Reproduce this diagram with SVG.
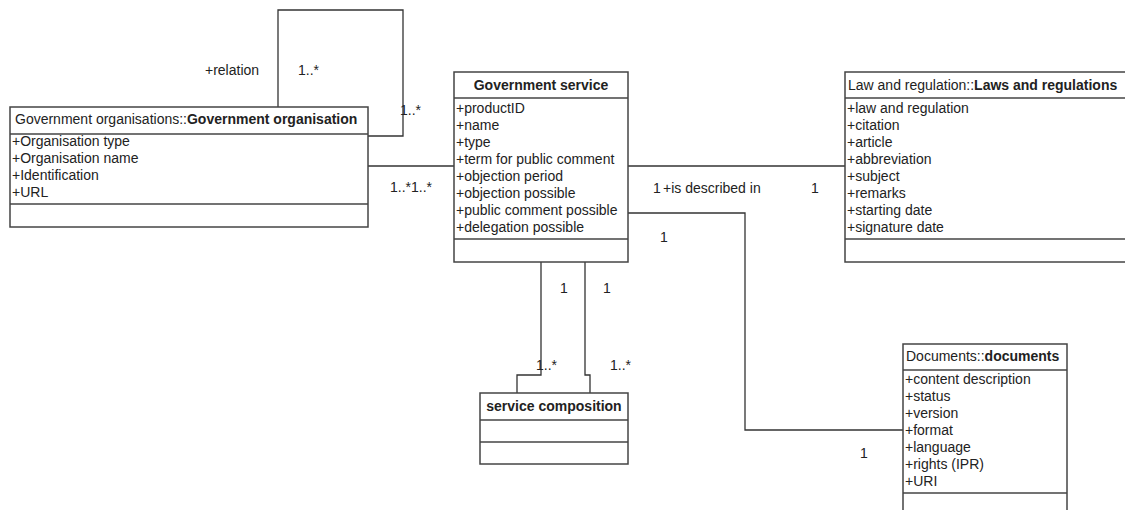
<svg xmlns="http://www.w3.org/2000/svg" width="1125" height="510" viewBox="0 0 1125 510">
<style>
.box{fill:#fff;stroke:#444;stroke-width:1.5}
.div{stroke:#444;stroke-width:1.5}
.con{fill:none;stroke:#333;stroke-width:1.3}
text{font-family:"Liberation Sans",Arial,sans-serif;font-size:14px;fill:#222}
.b{font-weight:bold}
.lbl{font-size:14px}
</style>
<rect width="1125" height="510" fill="#fff"/>
<g id="connectors">
<polyline class="con" points="278,107 278,10 403,10 403,136 368,136"/>
<line class="con" x1="368" y1="166" x2="454" y2="166"/>
<line class="con" x1="628" y1="166" x2="845" y2="166"/>
<polyline class="con" points="628,213 745,213 745,430 905,430"/>
<polyline class="con" points="541,262 541,375 517,375 517,393"/>
<polyline class="con" points="585,262 585,375 590,375 590,393"/>
<text class="lbl" x="205" y="75">+relation</text>
<text class="lbl" x="298" y="75">1..*</text>
<text class="lbl" x="400" y="115">1..*</text>
<text class="lbl" x="390" y="192">1..*1..*</text>
<text class="lbl" x="653" y="193">1</text>
<text class="lbl" x="663" y="193">+is described in</text>
<text class="lbl" x="811" y="193">1</text>
<text class="lbl" x="660" y="242">1</text>
<text class="lbl" x="860" y="458">1</text>
<text class="lbl" x="560" y="293">1</text>
<text class="lbl" x="603" y="293">1</text>
<text class="lbl" x="536" y="370">1..*</text>
<text class="lbl" x="610" y="370">1..*</text>
</g>
<g id="government-organisation">
<rect class="box" x="10" y="107" width="358" height="120"/>
<line class="div" x1="10" y1="134" x2="368" y2="134"/>
<line class="div" x1="10" y1="204" x2="368" y2="204"/>
<text x="15" y="124">Government organisations::<tspan class="b">Government organisation</tspan></text>
<text x="12" y="146">+Organisation type</text>
<text x="12" y="163">+Organisation name</text>
<text x="12" y="180">+Identification</text>
<text x="12" y="197">+URL</text>
</g>
<g id="government-service">
<rect class="box" x="454" y="72" width="174" height="190"/>
<line class="div" x1="454" y1="98" x2="628" y2="98"/>
<line class="div" x1="454" y1="239" x2="628" y2="239"/>
<text class="b" x="541" y="90" text-anchor="middle">Government service</text>
<text x="456" y="113">+productID</text>
<text x="456" y="130">+name</text>
<text x="456" y="147">+type</text>
<text x="456" y="164">+term for public comment</text>
<text x="456" y="181">+objection period</text>
<text x="456" y="198">+objection possible</text>
<text x="456" y="215">+public comment possible</text>
<text x="456" y="232">+delegation possible</text>
</g>
<g id="laws-and-regulations">
<rect class="box" x="845" y="72" width="290" height="190"/>
<line class="div" x1="845" y1="98" x2="1135" y2="98"/>
<line class="div" x1="845" y1="239" x2="1135" y2="239"/>
<text x="848" y="90">Law and regulation::<tspan class="b">Laws and regulations</tspan></text>
<text x="847" y="113">+law and regulation</text>
<text x="847" y="130">+citation</text>
<text x="847" y="147">+article</text>
<text x="847" y="164">+abbreviation</text>
<text x="847" y="181">+subject</text>
<text x="847" y="198">+remarks</text>
<text x="847" y="215">+starting date</text>
<text x="847" y="232">+signature date</text>
</g>
<g id="documents">
<rect class="box" x="903" y="344" width="164" height="180"/>
<line class="div" x1="903" y1="370" x2="1067" y2="370"/>
<line class="div" x1="903" y1="493" x2="1067" y2="493"/>
<text x="906" y="361">Documents::<tspan class="b">documents</tspan></text>
<text x="905" y="384">+content description</text>
<text x="905" y="401">+status</text>
<text x="905" y="418">+version</text>
<text x="905" y="435">+format</text>
<text x="905" y="452">+language</text>
<text x="905" y="469">+rights (IPR)</text>
<text x="905" y="486">+URI</text>
</g>
<g id="service-composition">
<rect class="box" x="480" y="393" width="148" height="71"/>
<line class="div" x1="480" y1="420" x2="628" y2="420"/>
<line class="div" x1="480" y1="442" x2="628" y2="442"/>
<text class="b" x="554" y="411" text-anchor="middle">service composition</text>
</g>
</svg>
